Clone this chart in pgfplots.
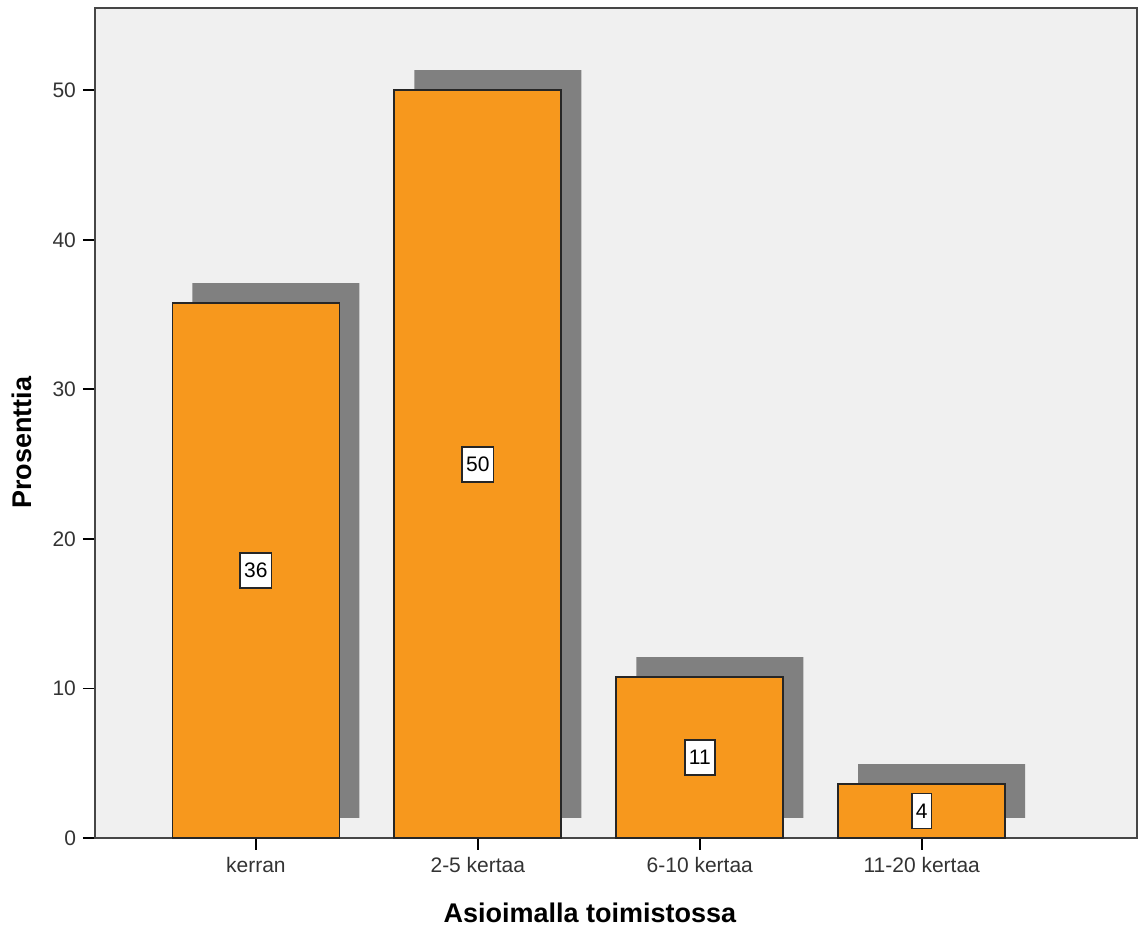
\documentclass[border=0pt]{standalone}
\usepackage{pgfplots}
\pgfplotsset{compat=1.18}
\usepackage{fontspec}
\setmainfont{Liberation Sans}
\definecolor{barorange}{RGB}{247,152,29}
\definecolor{shadowgray}{RGB}{128,128,128}
\definecolor{bggray}{RGB}{240,240,240}
\definecolor{axisgray}{RGB}{70,70,70}
\begin{document}
\begin{tikzpicture}
\begin{axis}[
  name=ax,
  scale only axis,
  width=521pt, height=415pt,
  xmin=-0.725, xmax=3.97,
  ymin=0, ymax=55.5,
  axis background/.style={fill=bggray},
  axis line style={draw=axisgray, line width=1pt},
  xtick={0,1,2,3},
  xticklabels={kerran,2-5 kertaa,6-10 kertaa,11-20 kertaa},
  ytick={0,10,20,30,40,50},
  tick align=outside,
  major tick length=6pt,
  tick style={draw=black, line width=0.9pt},
  xtick pos=bottom, ytick pos=left,
  ticklabel style={font=\fontsize{10.5pt}{12pt}\selectfont, text=black!80},
  /pgf/number format/assume math mode=true,
  xlabel={Asioimalla toimistossa},
  ylabel={Prosenttia},
  every axis x label/.style={at={(axis description cs:0.475,0)}, yshift=-37.5pt, anchor=center, font=\fontsize{13.5pt}{16pt}\selectfont\bfseries},
  every axis y label/.style={at={(axis description cs:0,0.476)}, xshift=-36.5pt, rotate=90, anchor=center, font=\fontsize{13.5pt}{16pt}\selectfont\bfseries},
  clip=false,
]
% shadows
\addplot[ybar, bar width=83.5pt, fill=shadowgray, draw=none, xshift=10pt, yshift=10pt]
  coordinates {(0,35.76) (1,50.0) (2,10.76) (3,3.61)};
% bars
\addplot[ybar, bar width=83.5pt, fill=barorange, draw=black!85, line width=0.9pt]
  coordinates {(0,35.76) (1,50.0) (2,10.76) (3,3.61)};
% labels
\addplot[draw=none, mark=none, nodes near coords, point meta=explicit symbolic,
  every node near coord/.style={anchor=center, draw=black!85, line width=0.9pt, fill=white,
    font=\fontsize{10.5pt}{12pt}\selectfont, inner xsep=2pt, inner ysep=0pt, minimum height=17.5pt, text=black}]
  coordinates {(0,17.88)[36] (1,25.0)[50] (2,5.38)[11] (3,1.8)[4]};
\end{axis}
\path[use as bounding box] ([xshift=-47.5pt,yshift=-45pt]ax.south west) rectangle ([xshift=1pt,yshift=4pt]ax.north east);
\end{tikzpicture}
\end{document}
